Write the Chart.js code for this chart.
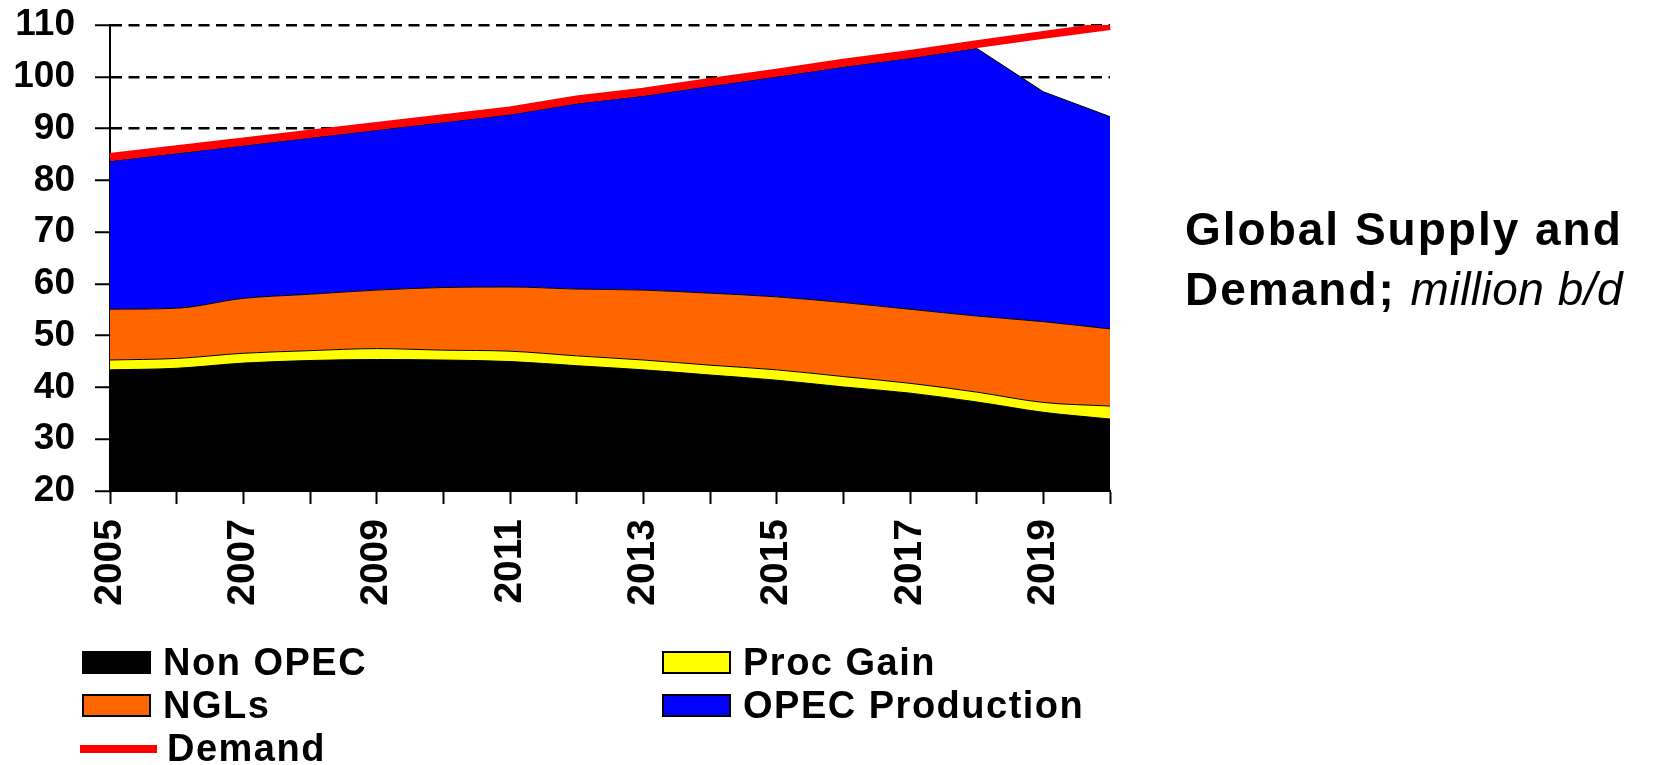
<!DOCTYPE html>
<html>
<head>
<meta charset="utf-8">
<title>Global Supply and Demand</title>
<script src="https://cdn.jsdelivr.net/npm/chart.js@4.4.1/dist/chart.umd.min.js"></script>
<style>
  body { margin: 0; background: #fff; font-family: 'Liberation Sans', Arial, sans-serif; color: #000; }
  #wrap { position: relative; width: 1655px; height: 765px; }
  #title { position: absolute; left: 1185px; top: 199px; font-size: 46px; line-height: 60px; font-weight: bold; letter-spacing: 2px; white-space: nowrap; }
  #title i { font-weight: normal; letter-spacing: 0.5px; }
  #legend { position: absolute; left: 82px; top: 641px; display: grid; grid-template-columns: 580px auto; grid-auto-rows: 43px; font-size: 38px; font-weight: bold; letter-spacing: 1.5px; }
  .item { display: flex; align-items: center; white-space: nowrap; }
  .box { width: 69px; height: 23px; box-sizing: border-box; border: 2px solid #000; margin-right: 12px; }
  .dash { width: 77px; height: 8px; margin-left: -2px; margin-right: 10px; }
</style>
</head>
<body>
<div id="wrap">
  <canvas id="chart-supply" width="1655" height="765"></canvas>
  <div id="title">Global Supply and<br>Demand; <i>million b/d</i></div>
  <div id="legend"></div>
</div>
<script>
// Data (million b/d)
const years = ['2005','2006','2007','2008','2009','2010','2011','2012','2013','2014','2015','2016','2017','2018','2019','2020'];
const nonOpec = [43.4, 43.7, 44.7, 45.2, 45.4, 45.3, 45.0, 44.2, 43.4, 42.4, 41.4, 40.1, 38.9, 37.2, 35.2, 33.9];
const procGain = [1.9, 1.9, 1.9, 1.9, 2.1, 1.9, 2.0, 1.9, 1.9, 1.9, 2.0, 2.0, 1.9, 1.9, 1.9, 2.5];
const ngls = [9.8, 9.7, 10.6, 10.9, 11.3, 12.1, 12.4, 12.9, 13.5, 13.9, 14.1, 14.3, 14.3, 14.7, 15.6, 14.9];
const opecProduction = [28.6, 29.9, 29.5, 30.2, 30.9, 31.9, 33.3, 35.8, 37.5, 40.0, 42.5, 45.5, 48.5, 51.7, 44.4, 41.0];
const demand = [84.5, 86.0, 87.5, 89.0, 90.5, 92.0, 93.5, 95.6, 97.1, 99.0, 100.8, 102.7, 104.4, 106.3, 108.1, 109.8];
const yMin = 20, yMax = 110, yStep = 10;

Chart.defaults.font.family = "'Liberation Sans', Arial, sans-serif";
Chart.defaults.color = '#000';

!function(){
  const ctx = document.getElementById('chart-supply');

  const area = (label, data, color, fill) => ({
    label: label,
    data: data,
    backgroundColor: color,
    borderColor: '#000',
    borderWidth: 1,
    fill: fill,
    stack: 'supply',
    order: 1,
    pointRadius: 0,
    cubicInterpolationMode: 'monotone'
  });

  const opec = area('OPEC Production', opecProduction, '#0000ff', '-1');
  opec.cubicInterpolationMode = 'default';
  opec.tension = 0;

  const chart = new Chart(ctx, {
    type: 'line',
    data: {
      labels: years,
      datasets: [
        area('Non OPEC', nonOpec, '#000000', 'origin'),
        area('Proc Gain', procGain, '#ffff00', '-1'),
        area('NGLs', ngls, '#ff6600', '-1'),
        opec,
        {
          label: 'Demand',
          data: demand,
          borderColor: '#ff0000',
          backgroundColor: '#ff0000',
          borderWidth: 8,
          fill: false,
          stack: 'demand',
          order: 0,
          pointRadius: 0,
          tension: 0
        }
      ]
    },
    options: {
      responsive: false,
      animation: false,
      layout: { padding: { top: 25, right: 545, bottom: 0, left: 0 } },
      plugins: { legend: { display: false }, tooltip: { enabled: false } },
      scales: {
        x: {
          grid: { drawOnChartArea: false, tickLength: 13, tickColor: '#000', tickWidth: 2 },
          border: { color: '#000', width: 2 },
          ticks: {
            autoSkip: false,
            minRotation: 90,
            maxRotation: 90,
            padding: 15,
            font: { size: 39, weight: 'bold' },
            callback: (v, i) => i % 2 === 0 ? years[i] : ''
          },
          afterFit: s => { s.height = 274; }
        },
        y: {
          stacked: true,
          min: yMin,
          max: yMax,
          grid: {
            color: c => c.tick && c.tick.value === yMin ? 'rgba(0,0,0,0)' : '#000',
            lineWidth: 2.5,
            tickLength: 15,
            tickWidth: 2,
            tickColor: '#000',
            tickBorderDash: []
          },
          border: { color: '#000', width: 2, dash: [11, 6.5] },
          ticks: { stepSize: yStep, padding: 20, font: { size: 37, weight: 'bold' } },
          afterFit: s => { s.width = 110; s.paddingTop = 20; s.paddingBottom = 20; }
        }
      }
    }
  });

  // legend in two columns, built from the datasets
  const legend = document.getElementById('legend');
  chart.data.datasets.forEach(ds => {
    const item = document.createElement('div');
    item.className = 'item';
    const mark = document.createElement('span');
    if (ds.fill) {
      mark.className = 'box';
      mark.style.background = ds.backgroundColor;
      mark.style.borderColor = ds.borderColor;
    } else {
      mark.className = 'dash';
      mark.style.background = ds.borderColor;
    }
    item.appendChild(mark);
    item.appendChild(document.createTextNode(ds.label));
    legend.appendChild(item);
  });
}();
</script>
</body>
</html>
